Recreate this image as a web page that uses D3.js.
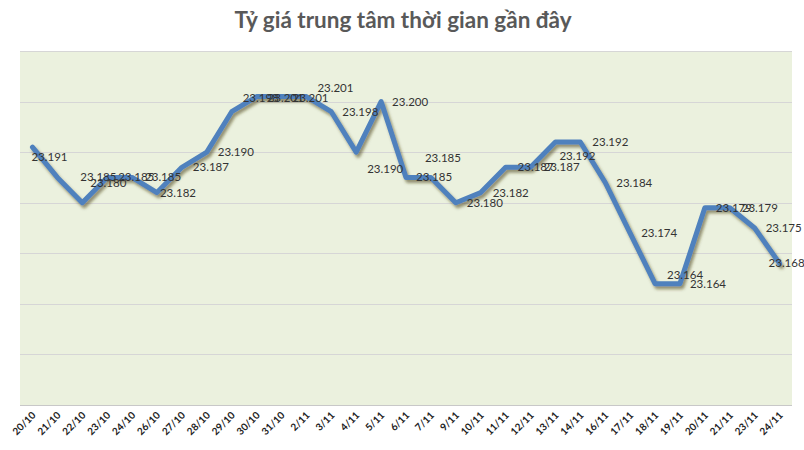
<!DOCTYPE html>
<html><head><meta charset="utf-8">
<script src="https://cdn.jsdelivr.net/npm/d3@7"></script>
<style>body{margin:0;background:#fff}svg{display:block}</style>
</head><body>
<svg id="c" width="804" height="450"></svg>
<script>
const categories = ["20/10","21/10","22/10","23/10","24/10","26/10","27/10","28/10","29/10","30/10","31/10","2/11","3/11","4/11","5/11","6/11","7/11","9/11","10/11","11/11","12/11","13/11","14/11","16/11","17/11","18/11","19/11","20/11","21/11","23/11","24/11"];
const values = [23.191,23.185,23.180,23.185,23.185,23.182,23.187,23.190,23.198,23.201,23.201,23.201,23.198,23.190,23.200,23.185,23.185,23.180,23.182,23.187,23.187,23.192,23.192,23.184,23.174,23.164,23.164,23.179,23.179,23.175,23.168];
const labels = ["23.191","23.185","23.180","23.185","23.185","23.182","23.187","23.190","23.198","23.201","23.201","23.201","23.198","23.190","23.200","23.185","23.185","23.180","23.182","23.187","23.187","23.192","23.192","23.184","23.174","23.164","23.164","23.179","23.179","23.175","23.168"];
const gridTicks = [23.14,23.15,23.16,23.17,23.18,23.19,23.20,23.21];
const title = "Tỷ giá trung tâm thời gian gần đây";
// label nudges (layout only): [dx of text start from point, dy of text centre from point]
const labelNudge = [[-1,10],[23,0],[8,-20],[11,0],[13,0],[3,0],[11,0],[11,0],[11,-14],[11,1],[11,1],[11,-9],[11,0],[11,17],[11,0],[10,0],[-6,-19],[11,0],[12,0],[12,0],[13,0],[4,14],[12,0],[11,0],[11,0],[12,-9],[10,0],[11,0],[12,0],[11,0],[-11,0]];

const svg = d3.select("#c");
const L = 20, R = 792, T = 51, B = 405;
const x = d3.scaleBand().domain(categories).range([L, R]);
const y = d3.scaleLinear().domain([23.14, 23.21]).range([B, T]);
const cx = d => x(d) + x.bandwidth() / 2;

const defs = svg.append("defs");
const f = defs.append("filter").attr("id","sh").attr("x","-10%").attr("y","-10%").attr("width","120%").attr("height","130%");
f.append("feDropShadow").attr("dx",2).attr("dy",3).attr("stdDeviation",1.6).attr("flood-color","#4a4010").attr("flood-opacity",0.55);

svg.append("text").attr("x", 403).attr("y", 28).attr("text-anchor","middle")
  .attr("font-family","Lato, 'Open Sans', sans-serif").attr("font-weight","bold")
  .attr("font-size", 22.5).attr("fill","#595959").text(title);

svg.append("rect").attr("x", L).attr("y", T).attr("width", R - L).attr("height", B - T).attr("fill","#EBF1DE");

svg.append("g").selectAll("line").data(gridTicks).join("line")
  .attr("x1", L).attr("x2", R).attr("y1", d => Math.round(y(d)) + 0.5).attr("y2", d => Math.round(y(d)) + 0.5)
  .attr("stroke", (d,i) => i === 0 ? "#c8c8c8" : "#d6d6d6").attr("stroke-width", 1);

const xAxis = d3.axisBottom(x).tickSize(0).tickPadding(0);
const gx = svg.append("g").attr("transform", `translate(0,${B})`).call(xAxis);
gx.select(".domain").remove();
gx.selectAll("text")
  .attr("font-family","Lato, 'Open Sans', sans-serif").attr("font-weight","bold").attr("font-size", 10)
  .attr("fill","#222").attr("text-anchor","end").attr("dy", 0)
  .attr("transform","translate(4,11) rotate(-45)");

const line = d3.line().x((d,i) => cx(categories[i])).y(d => y(d));
svg.append("path").datum(values).attr("d", line).attr("fill","none")
  .attr("stroke","#4F81BD").attr("stroke-width", 5).attr("stroke-linejoin","round").attr("stroke-linecap","round")
  .attr("filter","url(#sh)");

svg.append("g").selectAll("text").data(values).join("text")
  .attr("x", (d,i) => cx(categories[i]) + labelNudge[i][0])
  .attr("y", (d,i) => y(d) + labelNudge[i][1])
  .attr("dy","0.35em")
  .attr("font-family","Lato, 'Open Sans', sans-serif").attr("font-size", 11.5).attr("fill","#333")
  .text((d,i) => labels[i]);
</script>
</body></html>
